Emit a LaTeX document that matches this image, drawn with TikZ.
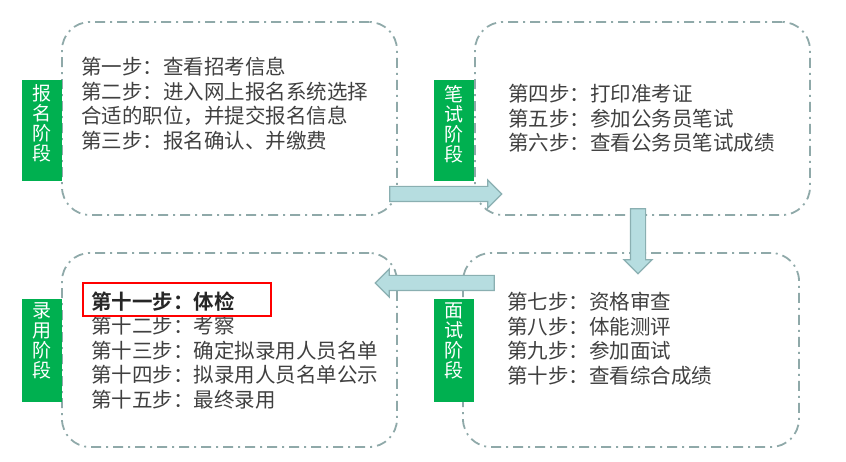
\documentclass[tikz,border=0pt]{standalone}
\usepackage{fontspec}
\setmainfont{Noto Sans CJK SC}[BoldFont={Noto Sans CJK SC Bold}]
\usetikzlibrary{shapes.arrows}
\definecolor{boxline}{HTML}{8FA9A9}
\definecolor{tabgreen}{HTML}{00B050}
\definecolor{arrfill}{HTML}{B6DDE0}
\definecolor{arrline}{HTML}{8AAFB1}
\definecolor{txt}{HTML}{404040}
\tikzset{
  stagebox/.style={draw=boxline, line width=1.8pt, rounded corners=28pt,
    dash pattern=on 10pt off 5pt on 2pt off 5pt, inner sep=0pt},
  tabbox/.style={fill=tabgreen, minimum width=40pt, minimum height=101pt, inner sep=0pt},
  tabtext/.style={text=white, align=center, inner sep=0pt, anchor=north,
    font=\fontsize{19}{20}\selectfont},
  steptext/.style={text=txt, align=left, anchor=west, inner sep=0pt,
    font=\fontsize{20.5}{24.5}\selectfont},
  blockarrow/.style={single arrow, fill=arrfill, draw=arrline, line width=1.2pt,
    minimum width=27pt, single arrow head extend=6.5pt, inner xsep=0pt, inner ysep=7pt},
  hlbox/.style={draw=red, line width=1.4pt, inner sep=0pt}
}
\begin{document}
\begin{tikzpicture}[x=1pt,y=-1pt]
\useasboundingbox (0,0) rectangle (846,462);
% boxes
\node[stagebox, minimum width=335pt, minimum height=193pt] (b1) at (229.5,118.5) {};
\node[stagebox, minimum width=335pt, minimum height=193pt] (b2) at (642.5,118.5) {};
\node[stagebox, minimum width=336pt, minimum height=194pt] (b3) at (631,350) {};
\node[stagebox, minimum width=335pt, minimum height=194pt] (b4) at (229.5,350) {};
% arrows
\coordinate (a1) at (442,194);
\coordinate (a2) at (638,237.5);
\coordinate (a3) at (438.5,283);
\node[blockarrow, minimum height=112pt] (ar1) at (a1) {};
\node[blockarrow, minimum height=65pt, rotate=-90] (ar2) at (a2) {};
\node[blockarrow, minimum height=119pt, rotate=180] (ar3) at (a3) {};
% tabs
\node[tabbox] (t1) at (42,130.5) {};
\node[tabbox] (t2) at (453.5,130.5) {};
\node[tabbox, minimum height=103pt] (t3) at (453.5,350.5) {};
\node[tabbox, minimum height=103pt] (t4) at (42,350.5) {};
\node[tabtext] (l1) at ([yshift=-5pt]t1.north) {报\\名\\阶\\段};
\node[tabtext] (l2) at ([yshift=-5pt]t2.north) {笔\\试\\阶\\段};
\node[tabtext] (l3) at ([yshift=-4pt]t3.north) {面\\试\\阶\\段};
\node[tabtext] (l4) at ([yshift=-4pt]t4.north) {录\\用\\阶\\段};
% texts
\node[steptext] (s1) at (81,103.5) {第一步：查看招考信息\\第二步：进入网上报名系统选择\\合适的职位，并提交报名信息\\第三步：报名确认、并缴费};
\node[steptext] (s2) at (508,118.5) {第四步：打印准考证\\第五步：参加公务员笔试\\第六步：查看公务员笔试成绩};
\node[steptext] (s3) at (507,338.5) {第七步：资格审查\\第八步：体能测评\\第九步：参加面试\\第十步：查看综合成绩};
\node[steptext] (s4) at (91,350.5) {{\bfseries\color{black!85}第十一步：体检}\\第十二步：考察\\第十三步：确定拟录用人员名单\\第十四步：拟录用人员名单公示\\第十五步：最终录用};
\node[hlbox, minimum width=188pt, minimum height=33pt] (hl) at (177,299.5) {};
\end{tikzpicture}
\end{document}
